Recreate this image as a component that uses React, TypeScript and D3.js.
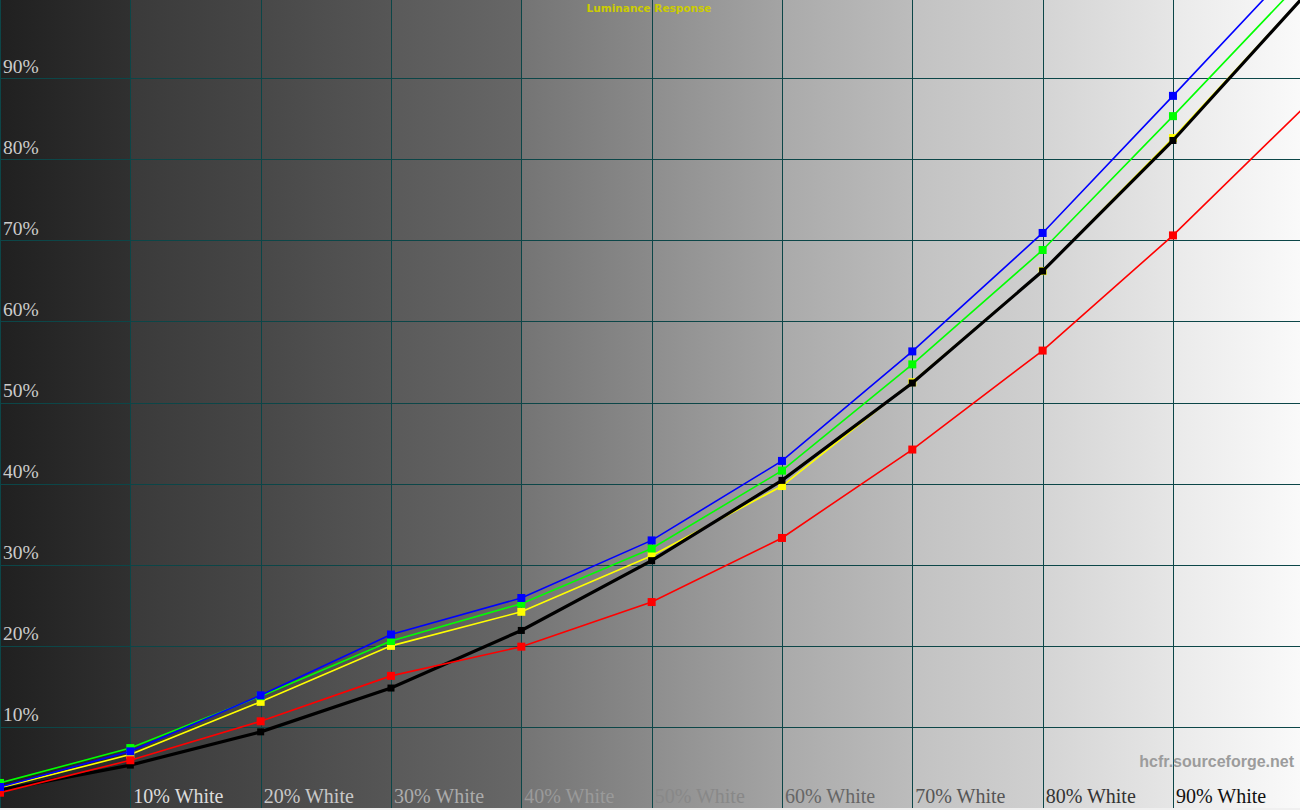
import React from 'react';
import * as d3 from 'd3';

// measurement levels (% white)
const levels = [0, 10, 20, 30, 40, 50, 60, 70, 80, 90, 100];
const yTicks = [10, 20, 30, 40, 50, 60, 70, 80, 90];
const xTicks = [10, 20, 30, 40, 50, 60, 70, 80, 90];

// luminance response per channel (%)
const blueValues = [2.6, 7.0, 13.9, 21.4, 25.9, 33.0, 42.8, 56.3, 70.9, 87.8, 104.9];
const greenValues = [3.1, 7.4, 13.8, 20.6, 25.2, 32.0, 41.6, 54.7, 68.8, 85.3, 102.2];
const yellowValues = [2.5, 6.6, 13.1, 20.0, 24.2, 31.1, 39.7, 52.5, 66.2, 82.6, 100];
const blackValues = [2.2, 5.3, 9.4, 14.8, 21.9, 30.5, 40.4, 52.4, 66.2, 82.3, 100];
const redValues = [1.9, 5.9, 10.7, 16.3, 19.9, 25.4, 33.3, 44.2, 56.4, 70.6, 86.3];

const W = 1300;
const H = 810;
const plotH = 808;

// gray band shading (left -> right of each 10% column)
const bandLeft = [0x20, 0x3a, 0x48, 0x5a, 0x74, 0x8e, 0xaa, 0xc2, 0xd4, 0xea];
const bandRight = [0x30, 0x47, 0x56, 0x67, 0x8a, 0xa4, 0xbc, 0xd0, 0xe6, 0xfa];
const xLabelColors = ['#dcdcdc', '#c8c8c8', '#acacac', '#9a9a9a', '#888888', '#666666', '#555555', '#333333', '#111111'];

const gray = (v: number) => `rgb(${v},${v},${v})`;

export default function App() {
    const x = d3.scaleLinear().domain([0, 100]).range([0, 1303.3]);
    const y = d3.scaleLinear().domain([0, 100]).range([808.1, -3.1]);

    const line = d3.line<number>()
        .x((d, i) => x(levels[i]))
        .y(d => y(d));

    const series = [
        { name: 'yellow', values: yellowValues, color: '#ffff00', width: 1.6, mark: 8 },
        { name: 'black', values: blackValues, color: '#000000', width: 3.2, mark: 7 },
        { name: 'red', values: redValues, color: '#ff0000', width: 1.6, mark: 8 },
        { name: 'green', values: greenValues, color: '#00ff00', width: 1.6, mark: 8 },
        { name: 'blue', values: blueValues, color: '#0000ff', width: 1.6, mark: 8 },
    ];

    const crisp = (v: number) => Math.round(v) + 0.5;

    return (
        <svg width={W} height={H} style={{ position: 'fixed', left: 0, top: 0 }}>
            <defs>
                {bandLeft.map((l, i) => (
                    <linearGradient key={i} id={`band${i}`} x1="0" x2="1" y1="0" y2="0">
                        <stop offset="0%" stopColor={gray(l)} />
                        <stop offset="100%" stopColor={gray(bandRight[i])} />
                    </linearGradient>
                ))}
                <clipPath id="plotClip">
                    <rect x={0} y={0} width={W} height={plotH} />
                </clipPath>
            </defs>
            <rect x={0} y={0} width={W} height={H} fill="#f0f0f0" />
            {bandLeft.map((_, i) => (
                <rect key={i} x={x(i * 10)} y={0} width={x(10) + 0.5} height={plotH} fill={`url(#band${i})`} />
            ))}
            {/* grid */}
            <g stroke="#0c4648" strokeWidth={1}>
                {[0, ...xTicks].map(t => (
                    <line key={'v' + t} x1={crisp(x(t))} x2={crisp(x(t))} y1={0} y2={plotH} />
                ))}
                {yTicks.map(t => (
                    <line key={'h' + t} x1={0} x2={W} y1={crisp(y(t))} y2={crisp(y(t))} />
                ))}
            </g>
            {/* y labels */}
            {yTicks.map(t => (
                <text key={'yl' + t} x={3} y={y(t) - 5.5} fill="#cccccc"
                    style={{ fontFamily: '"Liberation Serif", serif', fontSize: '19.5px' }}>
                    {t}%
                </text>
            ))}
            {/* x labels */}
            {xTicks.map((t, i) => (
                <text key={'xl' + t} x={x(t) + 3} y={803} fill={xLabelColors[i]}
                    style={{ fontFamily: '"Liberation Serif", serif', fontSize: '20px' }}>
                    {t}% White
                </text>
            ))}
            <text x={649} y={12} textAnchor="middle" fill="#cccc00"
                style={{ fontFamily: '"DejaVu Sans", sans-serif', fontSize: '10.5px', fontWeight: 'bold' }}>
                Luminance Response
            </text>
            <text x={1294} y={767} textAnchor="end" fill="#9c9c9c"
                style={{ fontFamily: '"Liberation Sans", Arial, sans-serif', fontSize: '16px', fontWeight: 'bold' }}>
                hcfr.sourceforge.net
            </text>
            {/* series */}
            <g clipPath="url(#plotClip)">
                {series.map(s => (
                    <g key={s.name}>
                        <path d={line(s.values) || ''} fill="none" stroke={s.color} strokeWidth={s.width} />
                        {s.values.slice(0, -1).map((v, i) => (
                            <rect key={i} x={x(levels[i]) - s.mark / 2} y={y(v) - s.mark / 2}
                                width={s.mark} height={s.mark} fill={s.color} />
                        ))}
                    </g>
                ))}
            </g>
        </svg>
    );
}
